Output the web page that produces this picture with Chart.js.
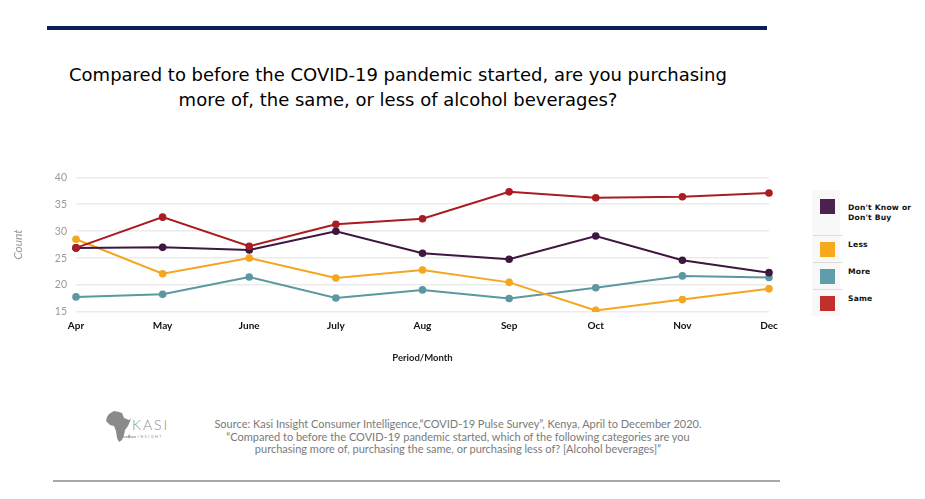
<!DOCTYPE html>
<html>
<head>
<meta charset="utf-8">
<script src="https://cdn.jsdelivr.net/npm/chart.js@4.4.1/dist/chart.umd.min.js"></script>
<style>
  body { margin: 0; width: 925px; height: 499px; background: #fff; position: relative; overflow: hidden; font-family: "DejaVu Sans", sans-serif; }
  #topBar { position: absolute; left: 47px; top: 26px; width: 720px; height: 4px; background: #0b1d55; }
  #title { position: absolute; left: 0; top: 62px; width: 796px; text-align: center; font-size: 18px; line-height: 25px; color: #000; }
  #chartBox { position: absolute; left: 0; top: 162px; width: 800px; height: 203px; }
  #legendCol { position: absolute; left: 812px; top: 190px; width: 28px; height: 126px; background: #f8f8f8; }
  #legend { position: absolute; left: 812px; top: 190px; width: 110px; }
  .row { position: relative; height: 27px; }
  .row.first { height: 45px; }
  .row + .row::before { content: ""; position: absolute; left: 1px; top: 0; width: 29px; height: 1px; background: #dcdcdc; }
  .sw { position: absolute; left: 8px; top: 7px; width: 15px; height: 15px; }
  .row.first .sw { top: 9px; }
  .lbl { position: absolute; left: 36px; top: 4.5px; font-weight: bold; font-size: 7.6px; line-height: 9.6px; color: #111; letter-spacing: 0.2px; }
  .row.first .lbl { top: 13px; }
  #source { position: absolute; left: 188px; top: 418px; width: 540px; text-align: center; font-family: Lato, sans-serif; font-size: 11px; line-height: 12.7px; color: #7a7a7a; }
  #logo { position: absolute; left: 104px; top: 406px; }
  #footLine { position: absolute; left: 53px; top: 480px; width: 727px; height: 2px; background: #a9a9a9; }
</style>
</head>
<body>
<div id="topBar"></div>
<div id="title">Compared to before the COVID-19 pandemic started, are you purchasing<br>more of, the same, or less of alcohol beverages?</div>
<div id="chartBox"><canvas id="alcoholChart"></canvas></div>
<div id="legendCol"></div>
<div id="legend"></div>
<svg id="logo" width="70" height="40" viewBox="0 0 70 40">
  <path d="M5 8 L10 5 L15 6 L18 7 L20 12 L25 14 L27 13 L24 20 L21 24 L20 29 L18 34 L15 36 L13 32 L12 25 L10 20 L6 19 L2 15 L3 11 Z" fill="#8a8a8a"/>
  <path d="M24 30 L26 28 L25 33 Z" fill="#8a8a8a"/>
  <text x="28" y="24" font-family="Lato, sans-serif" font-size="14" font-weight="300" letter-spacing="2" fill="#8c8c8c">KASI</text>
  <line x1="16" y1="31" x2="32" y2="31" stroke="#8c8c8c" stroke-width="1"/>
  <text x="34" y="32" font-family="Lato, sans-serif" font-size="3.5" letter-spacing="1.6" fill="#8c8c8c">INSIGHT</text>
</svg>
<div id="source">Source: Kasi Insight Consumer Intelligence,“COVID-19 Pulse Survey”, Kenya, April to December 2020.<br>“Compared to before the COVID-19 pandemic started, which of the following categories are you<br>purchasing more of, purchasing the same, or purchasing less of? [Alcohol beverages]”</div>
<div id="footLine"></div>

<script>
  // values
  const months = ["Apr", "May", "June", "July", "Aug", "Sep", "Oct", "Nov", "Dec"];
  const dontKnowValues = [26.9, 27.0, 26.5, 30.0, 25.9, 24.8, 29.1, 24.6, 22.3];
  const lessValues = [28.5, 22.1, 25.0, 21.3, 22.8, 20.5, 15.3, 17.3, 19.3];
  const moreValues = [17.8, 18.3, 21.5, 17.6, 19.1, 17.5, 19.5, 21.7, 21.4];
  const sameValues = [26.9, 32.6, 27.2, 31.3, 32.3, 37.3, 36.2, 36.4, 37.1];
  const seriesLabels = [["Don't Know or", "Don't Buy"], "Less", "More", "Same"];
  const yTicks = [15, 20, 25, 30, 35, 40];

  const color = {
    dontKnow: "#3e1740",
    less: "#f4a61f",
    more: "#5b98a2",
    same: "#a91c21"
  };
  const swatch = {
    dontKnow: "#4b2150",
    less: "#f8a81c",
    more: "#5f9ea8",
    same: "#c0312c"
  };

  function makeDataset(label, data, key, order) {
    return {
      label: label,
      data: data,
      borderColor: color[key],
      backgroundColor: color[key],
      pointBackgroundColor: color[key],
      pointBorderWidth: 0,
      pointRadius: 3.8,
      borderWidth: 2,
      tension: 0,
      order: order,
      swatch: swatch[key]
    };
  }

  const datasets = [
    makeDataset(seriesLabels[0], dontKnowValues, "dontKnow", 0),
    makeDataset(seriesLabels[1], lessValues, "less", 0),
    makeDataset(seriesLabels[2], moreValues, "more", 0),
    makeDataset(seriesLabels[3], sameValues, "same", -1)
  ];

  const ctx = document.getElementById("alcoholChart").getContext("2d");
  const chart = new Chart(ctx, {
    type: "line",
    data: { labels: months, datasets: datasets },
    options: {
      responsive: true,
      maintainAspectRatio: false,
      animation: false,
      layout: { padding: { left: 0, right: 31, top: 0, bottom: 0 } },
      plugins: { legend: { display: false }, tooltip: { enabled: false } },
      scales: {
        x: {
          grid: { display: false, drawTicks: false },
          border: { display: false },
          ticks: {
            color: "#111",
            font: { family: "Lato", size: 10, weight: "bold" },
            padding: 8,
            maxRotation: 0,
            autoSkip: false
          },
          title: {
            display: true,
            text: "Period/Month",
            color: "#222",
            font: { family: "Lato", size: 9.5, weight: "bold" },
            padding: { top: 4, bottom: 1 }
          },
          afterFit: function (scale) { scale.height = 53; }
        },
        y: {
          min: 15,
          max: 40,
          afterBuildTicks: function (scale) {
            scale.ticks = yTicks.map(function (v) { return { value: v }; });
          },
          grid: { color: "#ebebeb", lineWidth: 1.5, drawTicks: false },
          border: { display: false },
          ticks: {
            color: "#9a9a9a",
            font: { family: "Lato", size: 10.5 },
            padding: 9
          },
          title: {
            display: true,
            text: "Count",
            color: "#9a9a9a",
            font: { family: "Lato", size: 12, style: "italic" },
            padding: { top: 11, bottom: 0 }
          },
          afterFit: function (scale) { scale.width = 76; }
        }
      }
    }
  });

  // html legend built from the chart's datasets
  const legendEl = document.getElementById("legend");
  chart.data.datasets.forEach(function (ds, i) {
    const row = document.createElement("div");
    row.className = i === 0 ? "row first" : "row";
    const sw = document.createElement("div");
    sw.className = "sw";
    sw.style.background = ds.swatch;
    const lbl = document.createElement("div");
    lbl.className = "lbl";
    lbl.innerHTML = [].concat(ds.label).join("<br>");
    row.appendChild(sw);
    row.appendChild(lbl);
    legendEl.appendChild(row);
  });
</script>
</body>
</html>
